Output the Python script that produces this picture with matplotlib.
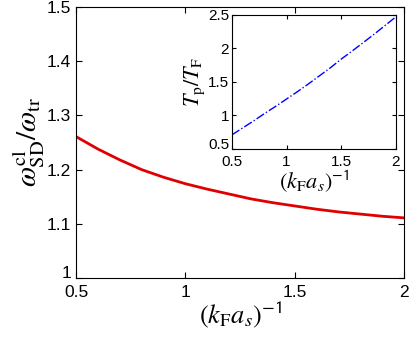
import matplotlib
matplotlib.use("Agg")
import matplotlib.pyplot as plt
import numpy as np

# main curve: omega_SD^cl / omega_tr vs (kF a_s)^-1
x_main = [0.5, 0.6, 0.7, 0.8, 0.9, 1.0, 1.1, 1.2, 1.3, 1.4, 1.5, 1.6, 1.7, 1.8, 1.9, 2.0]
y_main = [1.261, 1.238, 1.218, 1.200, 1.186, 1.174, 1.164, 1.155, 1.146,
          1.139, 1.133, 1.127, 1.122, 1.118, 1.114, 1.111]

# inset: T_p / T_F
x_ins = [0.5, 0.6, 0.7, 0.8, 0.9, 1.0, 1.1, 1.2, 1.3, 1.4, 1.5, 1.6, 1.7, 1.8, 1.9, 2.0]
y_ins = [0.71, 0.815, 0.92, 1.03, 1.135, 1.245, 1.355, 1.47, 1.59, 1.71,
         1.84, 1.96, 2.085, 2.21, 2.34, 2.47]

plt.rcParams['mathtext.fontset'] = 'stix'
plt.rcParams['font.family'] = ['Liberation Sans', 'DejaVu Sans']

fig = plt.figure(figsize=(4.09, 3.37), dpi=100)
ax = fig.add_axes([0.186, 0.175, 0.802, 0.804])
ax.plot(x_main, y_main, color='#e00000', lw=2)
ax.set_xlim(0.5, 2)
ax.set_ylim(1, 1.5)
ax.set_xticks([0.5, 1, 1.5, 2])
ax.set_xticklabels(['0.5', '1', '1.5', '2'])
ax.set_yticks([1, 1.1, 1.2, 1.3, 1.4, 1.5])
ax.set_yticklabels(['1', '1.1', '1.2', '1.3', '1.4', '1.5'])
ax.tick_params(direction='in', top=True, right=True, labelsize=12.5, length=4)
ax.tick_params(axis='x', pad=5)
# lowest y label sits just above the corner, as in the original
ax.get_yticklabels()[0].set_va('baseline')
ax.set_xlabel(r'$(k_{\rm F}a_s)^{\mathsf{-1}}$', fontsize=19, labelpad=0)
ax.set_ylabel(r'$\omega_{\rm SD}^{\rm cl}/\omega_{\rm tr}$', fontsize=21, labelpad=0)

ins = fig.add_axes([0.567, 0.558, 0.401, 0.398])
ins.plot(x_ins, y_ins, color='blue', lw=1, ls='-.')
ins.set_xlim(0.5, 2)
ins.set_ylim(0.5, 2.5)
ins.set_xticks([0.5, 1, 1.5, 2])
ins.set_xticklabels(['0.5', '1', '1.5', '2'])
ins.set_yticks([0.5, 1, 1.5, 2, 2.5])
ins.set_yticklabels(['0.5', '1', '1.5', '2', '2.5'])
ins.tick_params(direction='in', top=True, right=True, labelsize=11, length=3, pad=2)
ins.tick_params(axis='x', pad=4)
ins.get_yticklabels()[0].set_va('baseline')
ins.set_xlabel(r'$(k_{\rm F}a_s)^{\mathsf{-1}}$', fontsize=16, labelpad=0)
ins.set_ylabel(r'$T_{\rm p}/T_{\rm F}$', fontsize=16, labelpad=1)

fig.savefig('out.png', dpi=100)
